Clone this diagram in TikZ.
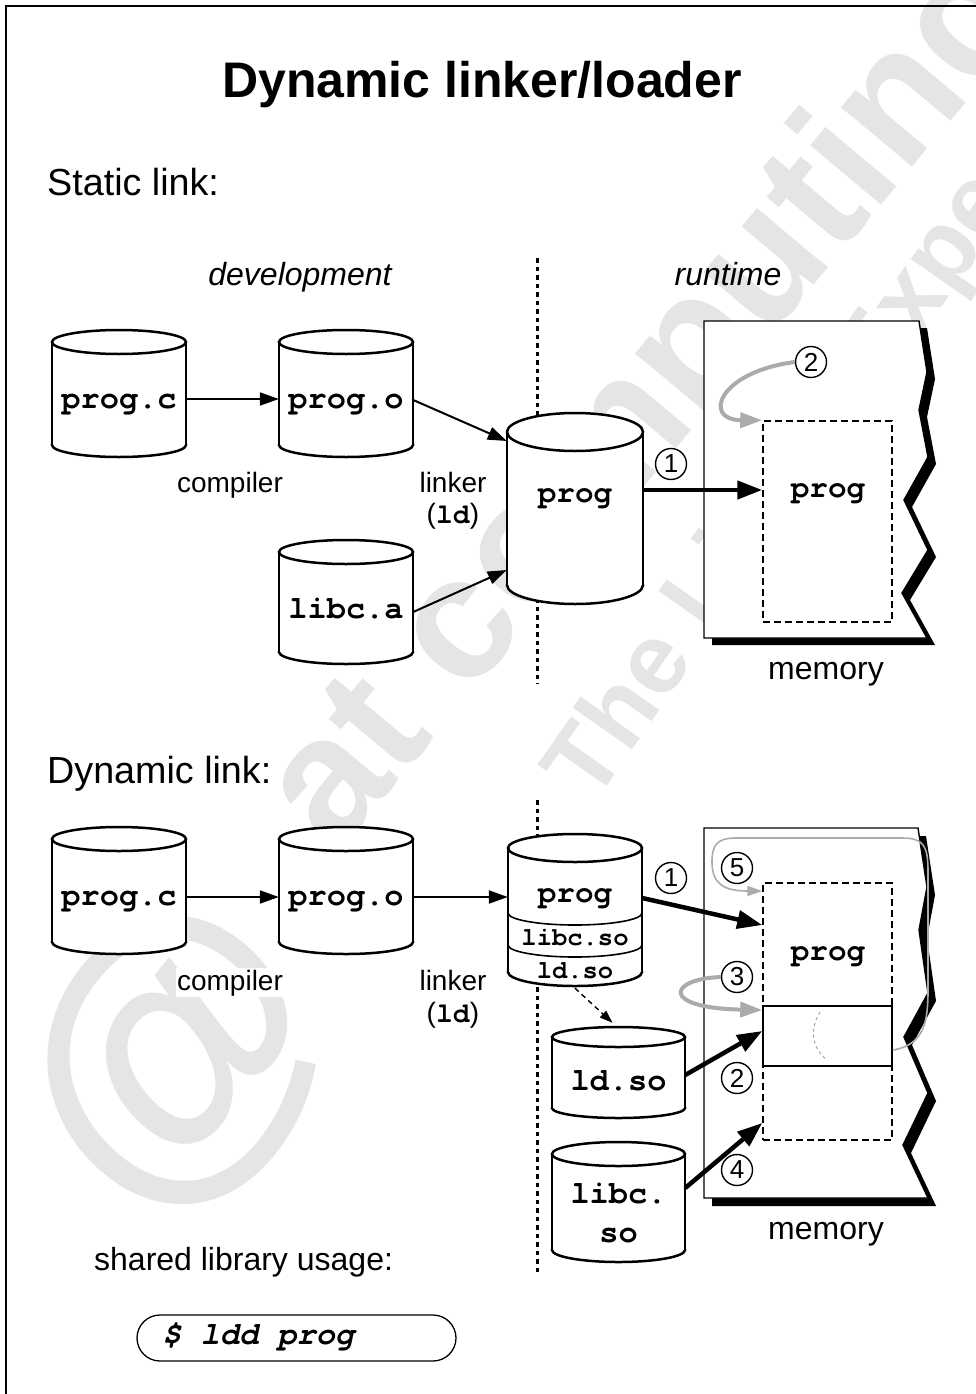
\documentclass[tikz,border=0pt]{standalone}
\usepackage{fontspec}
\setmainfont{Liberation Sans}
\setmonofont{TeX Gyre Cursor}
\usetikzlibrary{arrows.meta,calc}

\newcommand\fs[1]{\fontsize{#1}{#1}\selectfont}

% cylinder: name, x left, x right, y top centre, y bottom centre, ry
\newcommand\drum[6]{%
  \pgfmathsetmacro\dcx{(#2+#3)/2}%
  \pgfmathsetmacro\drx{(#3-#2)/2}%
  \filldraw[cylline] (\dcx,#5) ellipse [x radius=\drx, y radius=#6];
  \fill[white] (#2,#4) rectangle (#3,#5);
  \draw[cylline] (#2,#4) -- (#2,#5) (#3,#4) -- (#3,#5);
  \filldraw[cylline] (\dcx,#4) ellipse [x radius=\drx, y radius=#6];
  \node[inner sep=0pt, minimum width={#3-#2}, minimum height={#5-#4}] (#1) at (\dcx,{(#4+#5)/2}) {};
}

\tikzset{
  cylline/.style={line width=2.5pt, fill=white},
  arr/.style={-{Triangle[length=19pt,width=13pt]}, line width=2pt},
  tarr/.style={-{Triangle[length=25pt,width=18pt]}, line width=4.5pt},
  garr/.style={-{Triangle[length=22pt,width=15pt]}, line width=4pt, draw=black!33, color=black!33},
  tgarr/.style={-{Triangle[length=15pt,width=10pt]}, line width=1.6pt, draw=black!33, color=black!33},
  darr/.style={-{Triangle[length=13pt,width=9pt]}, line width=1.4pt, dash pattern=on 5pt off 4pt},
  dotline/.style={line width=3pt, dash pattern=on 4.5pt off 4pt},
  numc/.style={circle, draw, line width=1.4pt, fill=white, minimum size=31pt, inner sep=0pt, font=\fs{26}},
  mono/.style={anchor=base, inner sep=0pt, font=\fs{32}\ttfamily\bfseries},
  smono/.style={anchor=base, inner sep=0pt, font=\fs{25.5}\ttfamily\bfseries},
  lbl/.style={anchor=base, inner sep=1.5pt, fill=white, font=\fs{28}},
  memlbl/.style={anchor=base, inner sep=0pt, font=\fs{32}},
  head/.style={anchor=base west, inner sep=0pt, font=\fs{37.7}},
  ital/.style={anchor=base, inner sep=0pt, font=\fs{32}\itshape},
  dbox/.style={draw, line width=1.5pt, dash pattern=on 7pt off 4pt, inner sep=0pt},
  wm/.style={text=black!10, inner sep=0pt, font=\bfseries},
  paper/.style={fill=white, draw, line width=1.4pt},
}

\begin{document}
\begin{tikzpicture}[x=1pt,y=-1pt]
\useasboundingbox (0,0) rectangle (976,1394);

% ---- watermark ----
\begin{scope}
\clip (0,0) rectangle (976,1394);
\node[wm, rotate=50, font=\fs{175}\bfseries] (wmA) at (655,405) {at computing};
\node[wm, rotate=55, font=\fs{100}\bfseries] (wmB) at (805,458) {The Linux Expert};
\node[wm, rotate=50, font=\fs{310}\bfseries] (wmC) at (178,1062) {@};
\end{scope}

% ---- frame ----
\draw[line width=1.3pt] (6,1394) -- (6,6) -- (976,6);

% ---- titles ----
\node[anchor=base, inner sep=0pt, font=\fs{50}\bfseries] (title) at (482,98) {Dynamic linker/loader};
\node[head] (static) at (47,195) {Static link:};
\node[ital] (dev) at (300,285) {development};
\node[ital] (run) at (728,285) {runtime};

% helper heights
\coordinate (h399) at (0,399);
\coordinate (h400) at (0,400);
\coordinate (h441) at (0,441);
\coordinate (h612) at (0,612);
\coordinate (h570) at (0,570);
\coordinate (h490) at (0,490);
\coordinate (h897) at (0,897);
\coordinate (h898) at (0,898);
\coordinate (h925) at (0,925);
\coordinate (h1075) at (0,1075);
\coordinate (h1031) at (0,1031);
\coordinate (h1188) at (0,1188);
\coordinate (h1123) at (0,1123);
\coordinate (h1010) at (0,1010);
\coordinate (h1050) at (0,1050);
\coordinate (h891) at (0,891);

% ================= STATIC =================
\coordinate (dtS) at (537,258);
\coordinate (dbS) at (537,684);
\draw[dotline] (dtS) -- (dbS);

\drum{progcS}{52}{186}{342}{445}{12}
\node[mono] (tprogcS) at (119,408) {prog.c};
\drum{progoS}{279}{413}{342}{445}{12}
\node[mono] (tprogoS) at (346,408) {prog.o};
\drum{libcaS}{279}{413}{552}{652}{12}
\node[mono] (tlibcaS) at (346,618) {libc.a};
\drum{progS}{507}{643}{432}{585}{19}
\node[mono, font=\fs{31}\ttfamily\bfseries] (tprogS) at (575,502) {prog};

\draw[arr] (progcS.east |- h399) -- (progoS.west |- h399);
\draw[arr] (progoS.east |- h400) -- (progS.west |- h441);
\draw[arr] (libcaS.east |- h612) -- (progS.west |- h570);

\node[lbl] (compS) at (230,492) {compiler};
\node[lbl] (linkS) at (453,492) {linker};
\node[lbl] (ldS) at (453,523) {(\texttt{\bfseries ld})};

% memory (static)
\begin{scope}[shift={(8,7)}]
\fill (704,321) -- (919,321) -- (927,372) -- (919,410) -- (928,457) -- (904,500) -- (928,550) -- (902,593) -- (927,638) -- (704,638) -- cycle;
\end{scope}
\filldraw[paper] (704,321) -- (919,321) -- (927,372) -- (919,410) -- (928,457) -- (904,500) -- (928,550) -- (902,593) -- (927,638) -- (704,638) -- cycle;
\node[dbox, minimum width=129pt, minimum height=201pt] (boxS) at (827.5,521.5) {};
\node[mono, font=\fs{31}\ttfamily\bfseries] (mprogS) at (828,497) {prog};
\node[memlbl] (memS) at (826,679) {memory};

\draw[tarr] (progS.east |- h490) -- (boxS.west |- h490);
\node[numc] (c1S) at (671,464) {1};
\node[numc] (c2S) at (811,362) {2};
\draw[garr] (c2S.west) .. controls (718,372) and (702,420) .. (boxS.north west);

% ================= DYNAMIC =================
\node[head] (dynamic) at (47,783) {Dynamic link:};

\coordinate (dtD) at (537,800);
\coordinate (dbD) at (537,1272);
\draw[dotline] (dtD) -- (dbD);

\drum{progcD}{52}{186}{839}{942}{12}
\node[mono] (tprogcD) at (119,905) {prog.c};
\drum{progoD}{279}{413}{839}{942}{12}
\node[mono] (tprogoD) at (346,905) {prog.o};

\drum{progD}{508}{642}{848}{972}{14}
\begin{scope}
\clip (500,913) rectangle (650,935);
\draw[line width=1.6pt] (575,913) ellipse [x radius=67, y radius=12];
\end{scope}
\begin{scope}
\clip (500,945) rectangle (650,967);
\draw[line width=1.6pt] (575,945) ellipse [x radius=67, y radius=12];
\end{scope}
\node[mono, font=\fs{31}\ttfamily\bfseries] (tprogD) at (575,902) {prog};
\node[smono] (tlibcsoD) at (575,945) {libc.so};
\node[smono] (tldsoD) at (575,978) {ld.so};

\drum{ldsoD}{552}{685}{1037}{1108}{10}
\node[mono] (tldso) at (618.5,1090) {ld.so};
\drum{libcsoD}{552}{685}{1154}{1250}{12}
\node[mono] (tlibcso) at (618.5,1203) {libc.};
\node[mono] (tlibcso2) at (618.5,1242) {so};

\draw[arr] (progcD.east |- h897) -- (progoD.west |- h897);
\draw[arr] (progoD.east |- h897) -- (progD.west |- h897);
\draw[darr] ([yshift=-16pt]progD.south) -- ($(ldsoD.north)+(-6,-14)$);

\node[lbl] (compD) at (230,990) {compiler};
\node[lbl] (linkD) at (453,990) {linker};
\node[lbl] (ldD) at (453,1022) {(\texttt{\bfseries ld})};

% memory (dynamic)
\begin{scope}[shift={(8,8)}]
\fill (704,828) -- (918,828) -- (927,887) -- (919,930) -- (928,993) -- (904,1037) -- (928,1093) -- (903,1145) -- (928,1198) -- (704,1198) -- cycle;
\end{scope}
\filldraw[paper] (704,828) -- (918,828) -- (927,887) -- (919,930) -- (928,993) -- (904,1037) -- (928,1093) -- (903,1145) -- (928,1198) -- (704,1198) -- cycle;
\node[dbox, minimum width=129pt, minimum height=257pt] (boxD) at (827.5,1011.5) {};
\node[draw, line width=1.5pt, fill=white, inner sep=0pt, minimum width=129pt, minimum height=60pt] (midD) at (827.5,1036) {};
\draw[black!35, line width=1pt, dash pattern=on 3pt off 3pt] (820,1012) .. controls (809,1030) and (812,1048) .. (827,1060);
\node[mono, font=\fs{31}\ttfamily\bfseries] (mprogD) at (828,960) {prog};
\node[memlbl] (memD) at (826,1239) {memory};

\draw[tarr] (progD.east |- h898) -- (boxD.west |- h925);
\draw[tarr] (ldsoD.east |- h1075) -- (boxD.west |- h1031);
\draw[tarr] (libcsoD.east |- h1188) -- (boxD.west |- h1123);

\node[numc] (c1D) at (671,878) {1};
\node[numc] (c5D) at (737,868) {5};
\node[numc] (c3D) at (737,977) {3};
\node[numc] (c2D) at (737,1078) {2};
\node[numc] (c4D) at (737,1170) {4};

\draw[garr] (c3D.west) .. controls (668,979) and (660,1008) .. (boxD.west |- h1010);
\draw[tgarr] (midD.east |- h1050) .. controls (925,1045) and (928,1020) .. (928,990) -- (928,872) .. controls (928,846) and (924,838) .. (902,838) -- (736,838) .. controls (716,838) and (712,846) .. (712,862) .. controls (712,884) and (724,891) .. (boxD.west |- h891);

% shared library usage
\node[anchor=base west, inner sep=0pt, font=\fs{32}] (usage) at (94,1270) {shared library usage:};
\node[draw, line width=1.3pt, rounded corners=23pt, minimum width=319pt, minimum height=46pt, inner sep=0pt] (lddbox) at (296.5,1338) {};
\node[anchor=base west, inner sep=0pt, font=\fs{32}\ttfamily\bfseries\itshape] (lddtxt) at (162,1344) {\$ ldd prog};

\end{tikzpicture}
\end{document}
